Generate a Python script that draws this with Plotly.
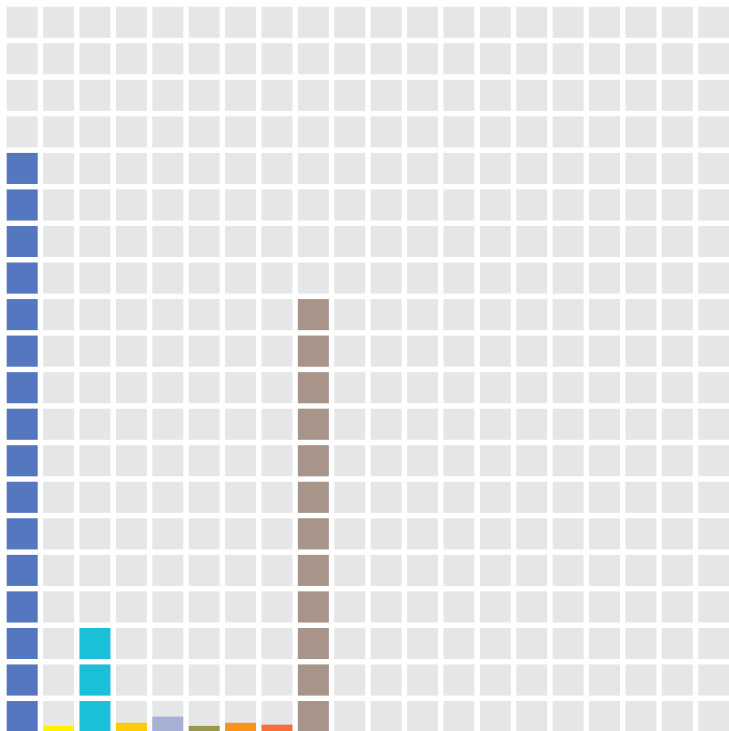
import math
import plotly.graph_objects as go

# one value per column, measured in grid cells (20 cells tall)
columns = list(range(20))
values = [16, 0.2, 3, 0.3, 0.5, 0.2, 0.3, 0.24, 12, 0, 0, 0, 0, 0, 0, 0, 0, 0, 0, 0]
colors = ["#5577c0", "#fff200", "#1bbfd8", "#ffc90b", "#a6b0d2", "#9a974b",
          "#f7941e", "#f37038", "#a89489", "#5577c0", "#5577c0", "#5577c0",
          "#5577c0", "#5577c0", "#5577c0", "#5577c0", "#5577c0", "#5577c0",
          "#5577c0", "#5577c0"]
n_rows = 20

cell = 0.85
pad = (1 - cell) / 2

fig = go.Figure()

# empty grid cells
bx, bbase, by = [], [], []
for k in range(n_rows):
    for c in columns:
        bx.append(c)
        bbase.append(k + pad)
        by.append(cell)
fig.add_trace(go.Bar(x=bx, y=by, base=bbase, width=cell,
                     marker=dict(color="#e5e6e8", line_width=0),
                     hoverinfo="skip", showlegend=False))

# filled cells
fx, fbase, fy, fc = [], [], [], []
for c, v, col in zip(columns, values, colors):
    full = math.floor(v)
    for k in range(full):
        fx.append(c)
        fbase.append(k + pad)
        fy.append(cell)
        fc.append(col)
    frac = v - full
    if frac > 0:
        fx.append(c)
        fbase.append(full + pad)
        fy.append(frac * cell)
        fc.append(col)
fig.add_trace(go.Bar(x=fx, y=fy, base=fbase, width=cell,
                     marker=dict(color=fc, line_width=0),
                     hoverinfo="skip", showlegend=False))

fig.update_layout(
    width=729,
    height=731,
    barmode="overlay",
    margin=dict(l=4, r=0, t=4, b=0),
    paper_bgcolor="white",
    plot_bgcolor="white",
    xaxis=dict(range=[-0.5, 19.42], visible=False, fixedrange=True),
    yaxis=dict(range=[0.105, 20], visible=False, fixedrange=True),
)

fig.write_html("out.html", config={"displayModeBar": False},
               post_script="document.body.style.margin = '0';")
